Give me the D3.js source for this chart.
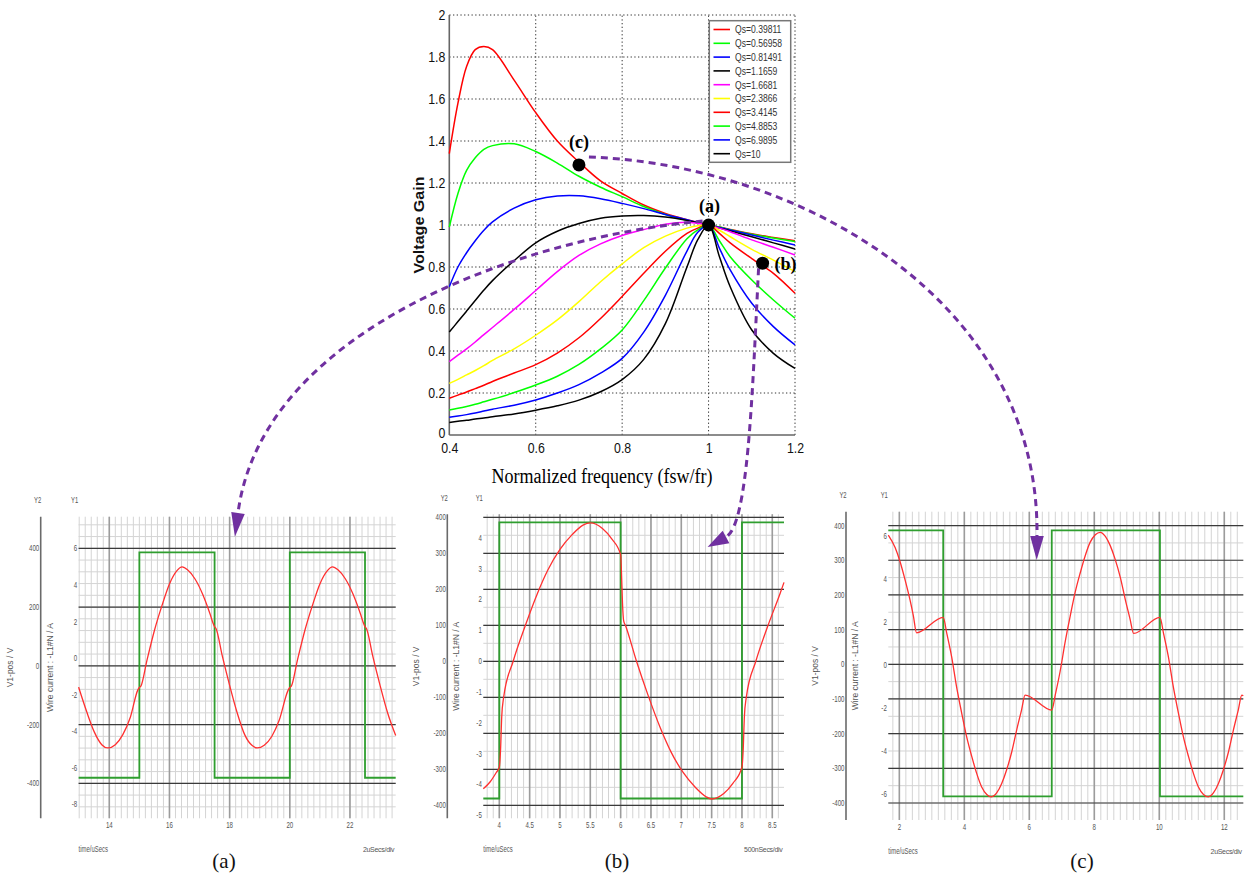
<!DOCTYPE html>
<html><head><meta charset="utf-8">
<script src="https://cdn.jsdelivr.net/npm/d3@7"></script>
<style>body{margin:0;background:#fff}svg{display:block}</style>
</head><body>
<svg id="c" width="1249" height="880"></svg>
<script>
// ---------------- DATA ----------------
const freq = [0.4,0.42,0.44,0.46,0.48,0.5,0.55,0.6,0.65,0.7,0.75,0.8,0.85,0.9,0.95,0.975,1.0,1.025,1.05,1.1,1.15,1.2];
const freqTicks = [0.4,0.6,0.8,1.0,1.2];
const gainTicks = [0,0.2,0.4,0.6,0.8,1.0,1.2,1.4,1.6,1.8,2.0];
const qsLabels = ["Qs=0.39811","Qs=0.56958","Qs=0.81491","Qs=1.1659","Qs=1.6681","Qs=2.3866","Qs=3.4145","Qs=4.8853","Qs=6.9895","Qs=10"];
const qsColors = ["#ff0000","#00ff00","#0000ff","#000000","#ff00ff","#ffff00","#ff0000","#00ff00","#0000ff","#000000"];
const gainQ1  = [1.34,1.58,1.755,1.835,1.85,1.835,1.69,1.535,1.40,1.30,1.21,1.15,1.095,1.055,1.025,1.012,1.0,0.99,0.979,0.958,0.941,0.925];
const gainQ2  = [0.99,1.15,1.26,1.32,1.36,1.378,1.387,1.35,1.295,1.232,1.18,1.135,1.088,1.05,1.022,1.01,1.0,0.99,0.978,0.956,0.938,0.921];
const gainQ3  = [0.706,0.80,0.868,0.925,0.975,1.015,1.08,1.12,1.138,1.139,1.125,1.103,1.078,1.05,1.025,1.012,1.0,0.988,0.976,0.952,0.928,0.905];
const gainQ4  = [0.49,0.54,0.59,0.64,0.69,0.735,0.83,0.915,0.97,1.007,1.032,1.043,1.045,1.038,1.022,1.011,1.0,0.985,0.972,0.944,0.915,0.886];
const gainQ5  = [0.349,0.38,0.41,0.443,0.478,0.512,0.598,0.688,0.778,0.855,0.91,0.95,0.978,1.004,1.013,1.008,1.0,0.985,0.968,0.929,0.894,0.857];
const gainQ6  = [0.246,0.265,0.286,0.307,0.33,0.355,0.41,0.475,0.548,0.635,0.73,0.815,0.892,0.947,0.985,0.996,1.0,0.975,0.944,0.884,0.833,0.778];
const gainQ7  = [0.175,0.19,0.205,0.221,0.237,0.255,0.295,0.335,0.39,0.463,0.555,0.66,0.77,0.875,0.96,0.985,1.0,0.96,0.915,0.84,0.77,0.675];
const gainQ8  = [0.119,0.127,0.136,0.146,0.158,0.17,0.202,0.238,0.28,0.336,0.41,0.5,0.64,0.795,0.935,0.977,1.0,0.925,0.849,0.738,0.643,0.556];
const gainQ9  = [0.084,0.09,0.097,0.105,0.114,0.123,0.142,0.167,0.2,0.24,0.295,0.365,0.49,0.665,0.876,0.965,1.0,0.89,0.786,0.627,0.516,0.429];
const gainQ10 = [0.059,0.065,0.07,0.076,0.081,0.087,0.1,0.118,0.139,0.166,0.206,0.264,0.36,0.53,0.8,0.93,1.0,0.85,0.706,0.5,0.389,0.317];
const gainSeries = [gainQ1,gainQ2,gainQ3,gainQ4,gainQ5,gainQ6,gainQ7,gainQ8,gainQ9,gainQ10];
const markerLabels = ["(a)","(b)","(c)"];
const markerFreq = [1.0,1.125,0.7];
const markerGain = [1.0,0.818,1.286];

// scope (a)
const aTime = [12.98,13.25,13.5,13.75,13.95,14.2,14.45,14.7,14.95,15.0,15.05,15.25,15.5,15.75,16.0,16.25,16.42,16.6,16.85,17.1,17.35,17.45,17.5,17.55,17.75,18.0,18.25,18.5,18.75,18.92,19.15,19.4,19.65,19.95,20.0,20.05,20.25,20.5,20.75,21.0,21.25,21.42,21.6,21.85,22.1,22.35,22.45,22.5,22.55,22.75,23.0,23.25,23.52];
const aCurrent = [-1.6,-2.95,-4.05,-4.75,-4.93,-4.75,-4.2,-3.25,-1.75,-1.62,-1.55,-0.15,1.5,2.86,4.05,4.78,4.98,4.82,4.32,3.5,2.4,1.9,1.71,1.6,0.15,-1.5,-3.0,-4.2,-4.8,-4.93,-4.78,-4.3,-3.4,-1.75,-1.62,-1.55,-0.15,1.5,2.86,4.05,4.78,4.98,4.82,4.32,3.5,2.4,1.9,1.71,1.6,0.15,-1.5,-3.0,-4.25];
const aVTime = [12.98,15.0,17.5,20.0,22.5,23.52];
const aVolt = [-381,386,-381,386,-381,-381];
// scope (b)
const bTime = [3.736,3.85,3.95,4.0,4.02,4.04,4.07,4.23,4.42,4.63,4.8,5.0,5.2,5.38,5.5,5.7,5.85,6.0,6.01,6.03,6.05,6.08,6.26,6.45,6.66,6.83,7.03,7.23,7.41,7.5,7.7,7.85,8.0,8.02,8.04,8.07,8.23,8.42,8.63,8.693];
const bCurrent = [-4.15,-3.92,-3.62,-3.45,-2.9,-1.8,-1.2,0,1.1,2.2,2.95,3.62,4.1,4.41,4.48,4.3,3.97,3.45,3.1,1.9,1.3,1.15,0,-1.1,-2.2,-2.95,-3.62,-4.1,-4.41,-4.48,-4.3,-3.97,-3.45,-2.9,-1.8,-1.2,0,1.1,2.2,2.55];
const bVTime = [3.736,4.0,6.0,8.0,8.693];
const bVolt = [-381,386,-381,386,386];
// scope (c)
const cTime = [1.66,1.87,2.02,2.17,2.33,2.43,2.53,3.35,3.46,3.61,3.76,3.92,4.07,4.23,4.38,4.53,4.69,4.84,5.0,5.15,5.3,5.46,5.61,5.76,5.87,6.69,6.8,6.95,7.1,7.26,7.41,7.57,7.72,7.87,8.03,8.18,8.34,8.49,8.64,8.8,8.95,9.1,9.21,10.02,10.13,10.28,10.43,10.59,10.74,10.9,11.05,11.2,11.36,11.51,11.67,11.82,11.97,12.13,12.28,12.43,12.54,12.585];
const cCurrent = [6.03,5.45,4.8,3.98,3.0,2.28,1.48,2.2,1.45,0.36,-1.03,-2.27,-3.36,-4.29,-5.07,-5.69,-6.05,-6.16,-5.97,-5.54,-4.91,-4.06,-3.05,-2.12,-1.42,-2.12,-1.4,-0.3,1.03,2.27,3.36,4.29,5.07,5.69,6.05,6.16,5.97,5.54,4.91,4.06,3.05,2.12,1.45,2.2,1.45,0.36,-1.03,-2.27,-3.36,-4.29,-5.07,-5.69,-6.05,-6.16,-5.97,-5.54,-4.91,-4.06,-3.05,-2.12,-1.42,-1.45];
const cVTime = [1.66,3.35,6.69,10.02,12.585];
const cVolt = [386,-381,386,-381,-381];

const aXTicks=[14,16,18,20,22], aY1Ticks=[-8,-6,-4,-2,0,2,4,6], aY2Ticks=[-400,-200,0,200,400];
const bXTicks=[4,4.5,5,5.5,6,6.5,7,7.5,8,8.5], bY1Ticks=[-5,-4,-3,-2,-1,0,1,2,3,4], bY2Ticks=[-400,-300,-200,-100,0,100,200,300,400];
const cXTicks=[2,4,6,8,10,12], cY1Ticks=[-6,-4,-2,0,2,4,6], cY2Ticks=[-400,-300,-200,-100,0,100,200,300,400];

// ---------------- DRAW ----------------
const SANS = "'Liberation Sans', Arial, sans-serif";
const SERIF = "'Liberation Serif', 'Times New Roman', serif";
const svg = d3.select("#c");
svg.append("rect").attr("width",1249).attr("height",880).attr("fill","#fff");

function squeeze(sel, f){
  sel.each(function(){
    const l = this.getComputedTextLength();
    if (l > 0){ this.setAttribute("textLength", (l*f).toFixed(2)); this.setAttribute("lengthAdjust","spacingAndGlyphs"); }
  });
}

// ----- main chart -----
const xM = d3.scaleLinear().domain([0.4,1.2]).range([449.3,795]);
const yM = d3.scaleLinear().domain([0,2]).range([435,15]);
const gM = svg.append("g");
gM.selectAll(null).data(freqTicks.slice(1)).join("line")
  .attr("x1",d=>xM(d)).attr("x2",d=>xM(d)).attr("y1",yM(0)).attr("y2",yM(2))
  .attr("stroke","#333").attr("stroke-width",1).attr("stroke-dasharray","1.3,2.4");
gM.selectAll(null).data(gainTicks.slice(1)).join("line")
  .attr("y1",d=>yM(d)).attr("y2",d=>yM(d)).attr("x1",xM(0.4)).attr("x2",xM(1.2))
  .attr("stroke","#333").attr("stroke-width",1).attr("stroke-dasharray","1.3,2.4");
gM.append("line").attr("x1",xM(0.4)).attr("x2",xM(0.4)).attr("y1",yM(0)).attr("y2",yM(2)).attr("stroke","#666").attr("stroke-width",1.6);
gM.append("line").attr("x1",xM(0.4)).attr("x2",xM(1.2)).attr("y1",yM(0)).attr("y2",yM(0)).attr("stroke","#666").attr("stroke-width",1.6);

const ax = gM.append("g").attr("transform",`translate(0,${yM(0)})`)
  .call(d3.axisBottom(xM).tickValues(freqTicks).tickFormat(d3.format("~g")).tickSize(0).tickPadding(8.5));
const ay = gM.append("g").attr("transform",`translate(${xM(0.4)},0)`)
  .call(d3.axisLeft(yM).tickValues(gainTicks).tickFormat(d3.format("~g")).tickSize(0).tickPadding(4));
[ax,ay].forEach(a=>{ a.select(".domain").remove();
  a.selectAll("text").attr("font-family",SANS).attr("font-size",14).attr("fill","#111"); });
ay.selectAll("text").filter(d=>d===0).attr("dy","0.2em");
squeeze(ax.selectAll("text"),0.88); squeeze(ay.selectAll("text"),0.88);

const tYl = gM.append("text").attr("transform","translate(424,225) rotate(-90)").attr("text-anchor","middle")
  .attr("font-family",SANS).attr("font-weight","bold").attr("font-size",14).attr("fill","#111").text("Voltage Gain");
tYl.attr("textLength",97).attr("lengthAdjust","spacingAndGlyphs");
const tXl = gM.append("text").attr("x",602).attr("y",483).attr("text-anchor","middle")
  .attr("font-family",SERIF).attr("font-size",20).attr("fill","#000").text("Normalized frequency (fsw/fr)");
squeeze(tXl,0.9);

const lineM = d3.line().x(d=>xM(d[0])).y(d=>yM(d[1])).curve(d3.curveCatmullRom.alpha(0.5));
gainSeries.forEach((vals,i)=>{
  gM.append("path").datum(freq.map((f,k)=>[f,vals[k]]))
    .attr("d",lineM).attr("fill","none").attr("stroke",qsColors[i]).attr("stroke-width",1.5);
});

// legend
const lg = gM.append("g");
lg.append("rect").attr("x",709.3).attr("y",20.7).attr("width",81.4).attr("height",141.6)
  .attr("fill","#fff").attr("stroke","#777").attr("stroke-width",1.5);
qsLabels.forEach((lab,i)=>{
  const yy = 29.5 + i*13.8;
  lg.append("line").attr("x1",713.5).attr("x2",730).attr("y1",yy).attr("y2",yy).attr("stroke",qsColors[i]).attr("stroke-width",1.6);
  const t = lg.append("text").attr("x",735).attr("y",yy).attr("dy","0.36em").attr("font-family",SANS)
    .attr("font-size",11).attr("fill","#333").text(lab);
  squeeze(t,0.78);
});

// ----- scopes -----
function scope(c){
  const g = svg.append("g");
  const x = d3.scaleLinear().domain(c.xDom).range([c.left,c.right]);
  const y1 = d3.scaleLinear().domain(c.y1Dom).range([c.bottom,c.top]);
  const y2 = d3.scaleLinear().domain(c.y2Dom).range([c.bottom,c.top]);
  const mx = d3.range(Math.ceil(c.xDom[0]/c.xMinor-1e-6), Math.floor(c.xDom[1]/c.xMinor+1e-6)+1).map(k=>k*c.xMinor);
  const my = d3.range(Math.ceil(c.y2Dom[0]/c.y2Minor), Math.floor(c.y2Dom[1]/c.y2Minor)+1).map(k=>k*c.y2Minor);
  g.selectAll(null).data(mx).join("line").attr("x1",d=>x(d)).attr("x2",d=>x(d)).attr("y1",c.top).attr("y2",c.bottom)
    .attr("stroke","#d4d4d4").attr("stroke-width",1);
  g.selectAll(null).data(my).join("line").attr("y1",d=>y2(d)).attr("y2",d=>y2(d)).attr("x1",c.left).attr("x2",c.right)
    .attr("stroke","#d4d4d4").attr("stroke-width",1);
  g.selectAll(null).data(c.xTicks).join("line").attr("x1",d=>x(d)).attr("x2",d=>x(d)).attr("y1",c.top).attr("y2",c.bottom)
    .attr("stroke","#9c9c9c").attr("stroke-width",1.6);
  g.selectAll(null).data(c.y2Ticks).join("line").attr("y1",d=>y2(d)).attr("y2",d=>y2(d)).attr("x1",c.left).attr("x2",c.right)
    .attr("stroke","#3a3a3a").attr("stroke-width",1.2);
  g.append("line").attr("x1",c.axisX).attr("x2",c.axisX).attr("y1",c.top).attr("y2",c.bottom).attr("stroke","#6a6a6a").attr("stroke-width",1.6);

  const small = (sel)=>sel.attr("font-family",SANS).attr("font-size",9).attr("fill","#555");
  const t2 = g.selectAll(null).data(c.y2Ticks).join("text").attr("x",c.axisX-1.5).attr("y",d=>y2(d)).attr("dy","0.35em")
    .attr("text-anchor","end").text(d=>d).call(small);
  squeeze(t2,0.68);
  const t1 = g.selectAll(null).data(c.y1Ticks).join("text").attr("x",c.left-1.5).attr("y",d=>y1(d)).attr("dy","0.35em")
    .attr("text-anchor","end").text(d=>d).call(small);
  squeeze(t1,0.68);
  const tx = g.selectAll(null).data(c.xTicks).join("text").attr("x",d=>x(d)).attr("y",c.bottom+9.5)
    .attr("text-anchor","middle").text(d=>d).call(small);
  squeeze(tx,0.68);
  squeeze(g.append("text").attr("x",c.axisX-3).attr("y",c.top-13.5).attr("text-anchor","middle").text("Y2").call(small),0.65);
  squeeze(g.append("text").attr("x",c.left-4).attr("y",c.top-13.5).attr("text-anchor","middle").text("Y1").call(small),0.65);
  squeeze(g.append("text").attr("x",c.left).attr("y",c.bottom+33.5).text("time/uSecs").call(small),0.66);
  g.append("text").attr("x",c.right-1.5).attr("y",c.bottom+33.5).attr("text-anchor","end").text(c.divLabel)
    .call(small).attr("font-size",7).attr("letter-spacing","-0.3");
  const midY = (c.top+c.bottom)/2;
  g.append("text").attr("transform",`translate(${c.axisX-28},${midY}) rotate(-90)`).attr("text-anchor","middle")
    .text("V1-pos / V").call(small).attr("font-size",8.5);
  g.append("text").attr("transform",`translate(${c.axisX+12},${midY}) rotate(-90)`).attr("text-anchor","middle")
    .text("Wire current : -L1#N / A").call(small).attr("font-size",8.5);

  g.append("path").datum(c.vT.map((t,i)=>[t,c.vV[i]]))
    .attr("d",d3.line().x(d=>x(d[0])).y(d=>y2(d[1])).curve(d3.curveStepAfter))
    .attr("fill","none").attr("stroke","#2f9e2f").attr("stroke-width",1.8);
  g.append("path").datum(c.iT.map((t,i)=>[t,c.iI[i]]))
    .attr("d",d3.line().x(d=>x(d[0])).y(d=>y1(d[1])).curve(d3.curveMonotoneX))
    .attr("fill","none").attr("stroke","#ff3030").attr("stroke-width",1.3);

  g.append("text").attr("x",c.capX).attr("y",868).attr("text-anchor","middle").attr("font-family",SERIF)
    .attr("font-size",21).attr("fill","#111").text(c.caption);
}

scope({left:78.6,right:395.7,top:516.7,bottom:818.3,axisX:40.7,xDom:[12.98,23.52],y1Dom:[-8.78,7.73],y2Dom:[-519,507.6],
  xTicks:aXTicks,y1Ticks:aY1Ticks,y2Ticks:aY2Ticks,xMinor:0.2,y2Minor:40,vT:aVTime,vV:aVolt,iT:aTime,iI:aCurrent,
  divLabel:"2uSecs/div",caption:"(a)",capX:224});
scope({left:483.3,right:784,top:514.3,bottom:818.3,axisX:447.3,xDom:[3.736,8.693],y1Dom:[-5.107,4.76],y2Dom:[-436,408.3],
  xTicks:bXTicks,y1Ticks:bY1Ticks,y2Ticks:bY2Ticks,xMinor:0.1,y2Minor:50,vT:bVTime,vV:bVolt,iT:bTime,iI:bCurrent,
  divLabel:"500nSecs/div",caption:"(b)",capX:617});
scope({left:888.3,right:1243.3,top:511.7,bottom:820,axisX:846,xDom:[1.66,12.585],y1Dom:[-7.24,7.12],y2Dom:[-449,440],
  xTicks:cXTicks,y1Ticks:cY1Ticks,y2Ticks:cY2Ticks,xMinor:0.2,y2Minor:50,vT:cVTime,vV:cVolt,iT:cTime,iI:cCurrent,
  divLabel:"2uSecs/div",caption:"(c)",capX:1082});

// ----- annotation arrows -----
const PURPLE = "#7030a0";
function arrow(p0,c1,c2,p3,L,Wd){
  svg.append("path").attr("d",`M${p0[0]},${p0[1]} C${c1[0]},${c1[1]} ${c2[0]},${c2[1]} ${p3[0]},${p3[1]}`)
    .attr("fill","none").attr("stroke",PURPLE).attr("stroke-width",3).attr("stroke-dasharray","7,5");
  const dx=p3[0]-c2[0], dy=p3[1]-c2[1], n=Math.hypot(dx,dy), ux=dx/n, uy=dy/n;
  const tip=[p3[0]+ux*L,p3[1]+uy*L], a=[p3[0]-uy*Wd,p3[1]+ux*Wd], b=[p3[0]+uy*Wd,p3[1]-ux*Wd];
  svg.append("path").attr("d",`M${tip[0]},${tip[1]}L${a[0]},${a[1]}L${b[0]},${b[1]}Z`).attr("fill",PURPLE);
}
const mp = markerFreq.map((f,i)=>[xM(f),yM(markerGain[i])]);
arrow([mp[0][0]-6,mp[0][1]-4],[520,238],[262,330],[238,513],24,6.8);
arrow([mp[1][0]-4,mp[1][1]+5],[752,400],[748,525],[726,537],21,7);
arrow([mp[2][0]+10,mp[2][1]-8],[800,165],[1040,300],[1037,536],24,6.8);

// markers
const labOff = [[1,-13],[23,7],[0,-17]];
markerLabels.forEach((lab,i)=>{
  svg.append("circle").attr("cx",mp[i][0]).attr("cy",mp[i][1]).attr("r",6.5).attr("fill","#000");
  svg.append("text").attr("x",mp[i][0]+labOff[i][0]).attr("y",mp[i][1]+labOff[i][1]).attr("text-anchor","middle")
    .attr("font-family",SERIF).attr("font-weight","bold").attr("font-size",18).attr("fill","#000").text(lab);
});
</script>
</body></html>
